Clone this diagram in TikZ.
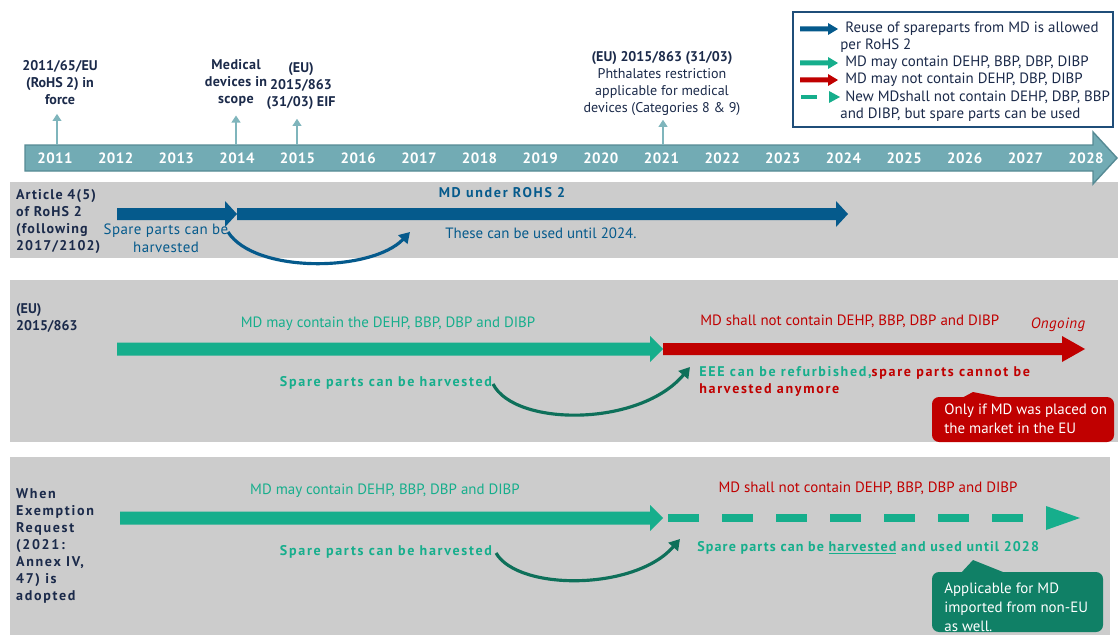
\documentclass[tikz,border=0pt]{standalone}
\usepackage{fontspec}
\setmainfont{PT Sans}
\newfontfamily\trackedFont[LetterSpace=12]{PT Sans}
\newfontfamily\midTrackedFont[LetterSpace=8]{PT Sans}
\newfontfamily\lightTrackedFont[LetterSpace=3]{PT Sans}
\usepackage{tikz}
\usetikzlibrary{arrows.meta}
\definecolor{timelineColor}{RGB}{114,171,180}
\definecolor{timelineEdge}{RGB}{86,138,148}
\definecolor{labelColor}{RGB}{27,42,74}
\definecolor{rohsBlue}{RGB}{5,90,140}
\definecolor{mdGreen}{RGB}{22,174,140}
\definecolor{mdRed}{RGB}{192,0,0}
\definecolor{curveGreen}{RGB}{14,112,90}
\definecolor{calloutGreen}{RGB}{16,128,102}
\definecolor{panelGrey}{RGB}{204,204,204}
\definecolor{legendEdge}{RGB}{31,78,121}
\definecolor{markerColor}{RGB}{127,181,188}
\newcommand{\textSize}{\fontsize{8}{9.8}\selectfont}
\newcommand{\plainSize}{\fontsize{8.5}{9.8}\selectfont}
\tikzstyle{pixelGrid} = [x = 0.02cm, y = -0.02cm]
\tikzstyle{panelStyle} = [fill=panelGrey]
\tikzstyle{timelineStyle} = [fill=timelineColor, draw=timelineEdge, line width=0.8pt]
\tikzstyle{yearText} = [font=\fontsize{8.5}{10}\selectfont\lightTrackedFont\bfseries, text=white, inner sep=0pt]
\tikzstyle{eventText} = [anchor=north, align=center, font=\textSize\bfseries, text=labelColor, inner sep=1pt]
\tikzstyle{rowTitle} = [anchor=north west, align=left, font=\textSize\midTrackedFont\bfseries, text=labelColor, inner sep=1pt]
\tikzstyle{plainText} = [anchor=base, font=\plainSize, inner sep=0pt]
\tikzstyle{boldText} = [anchor=base, font=\textSize\trackedFont\bfseries, inner sep=0pt]
\tikzstyle{legendText} = [anchor=base west, font=\plainSize, text=labelColor, inner sep=0pt]
\tikzstyle{calloutText} = [anchor=north west, align=left, font=\fontsize{8.5}{10.8}\selectfont, text=white, inner sep=0pt]
\tikzstyle{markerArrow} = [draw=markerColor, line width=0.8pt, shorten >=4pt, -{Triangle[length=4pt,width=5pt]}]
\tikzstyle{harvestCurve} = [line width=1.8pt, -{Triangle[length=6pt,width=7pt]}]
% color, x start, x tip, y, half thickness, half head, head length
\newcommand{\blockArrow}[7]{\fill [#1] (#2, #4 - #5) -- (#3 - #7, #4 - #5) -- (#3 - #7, #4 - #6) -- (#3, #4) -- (#3 - #7, #4 + #6) -- (#3 - #7, #4 + #5) -- (#2, #4 + #5) -- cycle;}

\begin{document}
\begin{tikzpicture}[pixelGrid]
  \useasboundingbox (0,0) rectangle (1118,635);
  % rows
  \fill [panelStyle] (10,182) rectangle (1118,258);
  \fill [panelStyle] (10,280) rectangle (1118,442);
  \fill [panelStyle] (10,457) rectangle (1110,635);

  % time line
  \filldraw [timelineStyle] (25,145) -- (1093,145) -- (1093,132) -- (1117,158) -- (1093,184) -- (1093,171) -- (25,171) -- cycle;
  \foreach \yr [count=\i from 0] in {2011,...,2028}
    \node [yearText] (year\yr) at (55 + 60.65 * \i, 158) {\yr};

  % events above the time line
  \node [eventText] (lblRohs) at (60,58) {2011/65/EU\\(RoHS 2) in\\force};
  \node [eventText, font=\textSize\lightTrackedFont\bfseries] (lblMed) at (236,57) {Medical\\devices in\\scope};
  \node [eventText] (lblEif) at (301,60) {(EU)\\2015/863\\(31/03) EIF};
  \node [eventText, font=\textSize] (lblPhth) at (662,49) {\textbf{(EU) 2015/863 (31/03)}\\Phthalates restriction\\applicable for medical\\devices (Categories 8 \& 9)};
  \coordinate (tickRohs) at (57,145);
  \coordinate (tickMed) at (236,145);
  \coordinate (tickEif) at (297,145);
  \coordinate (tickPhth) at (663,145);
  \draw [markerArrow] (tickRohs) -- (tickRohs |- lblRohs.south);
  \draw [markerArrow] (tickMed) -- (tickMed |- lblMed.south);
  \draw [markerArrow] (tickEif) -- (tickEif |- lblEif.south);
  \draw [markerArrow, shorten >=1pt] (tickPhth) -- (tickPhth |- lblPhth.south);

  % legend
  \filldraw [draw=legendEdge, fill=white, line width=1.2pt] (793,12) rectangle (1113,127);
  \blockArrow{rohsBlue}{800}{838}{29}{2.5}{6}{10}
  \blockArrow{mdGreen}{800}{838}{63}{2.5}{6}{10}
  \blockArrow{mdRed}{800}{838}{80}{2.5}{6}{10}
  \fill [mdGreen] (801,95) rectangle (817,99);
  \fill [mdGreen] (829,91) -- (840,97) -- (829,103) -- cycle;
  \node [legendText] (legReuse) at (845,33) {Reuse of spareparts from MD is allowed};
  \node [legendText] (legReuseB) at (840,50) {per RoHS 2};
  \node [legendText] (legMay) at (845,67) {MD may contain DEHP, BBP, DBP, DIBP};
  \node [legendText] (legMayNot) at (845,84) {MD may not contain DEHP, DBP, DIBP};
  \node [legendText] (legNew) at (845,101) {New MDshall not contain DEHP, DBP, BBP};
  \node [legendText] (legNewB) at (840,118) {and DIBP, but spare parts can be used};

  % row 1: Article 4(5)
  \node [rowTitle] (rowArticle) at (14,187) {Article 4(5)\\of RoHS 2\\(following\\2017/2102)};
  \blockArrow{rohsBlue}{117}{237}{214}{6}{13}{12}
  \blockArrow{rohsBlue}{237}{848}{214}{6}{13}{12}
  \node [boldText, text=rohsBlue] (underRohs) at (502,197) {MD under ROHS 2};
  \node [plainText, font=\plainSize\lightTrackedFont, text=rohsBlue, align=center, anchor=north] (harvestA) at (166,224) {Spare parts can be\\harvested};
  \node [plainText, text=rohsBlue, anchor=base west] (usedA) at (445,238) {These can be used until 2024.};
  \coordinate (curveStartA) at (228,232);
  \coordinate (curveEndA) at (410,232);
  \draw [harvestCurve, rohsBlue] (curveStartA) .. controls (255,274) and (372,272) .. (curveEndA);

  % row 2: (EU) 2015/863
  \node [rowTitle, font=\textSize\bfseries] (rowDirective) at (14,301) {(EU)\\2015/863};
  \blockArrow{mdGreen}{117}{663}{349}{6.5}{13}{13}
  \blockArrow{mdRed}{663}{1085}{349}{6}{13}{23}
  \node [plainText, text=mdGreen] (mayB) at (388,327) {MD may contain the DEHP, BBP, DBP and DIBP};
  \node [plainText, text=mdRed, anchor=base west] (notB) at (700,325) {MD shall not contain DEHP, BBP, DBP and DIBP};
  \node [plainText, text=mdRed, font=\plainSize\lightTrackedFont\itshape] (ongoing) at (1058,328) {Ongoing};
  \node [boldText, text=mdGreen] (harvestB) at (386,386) {Spare parts can be harvested};
  \node [boldText, anchor=north west, align=left] (refurbB) at (699,366) {\textcolor{mdGreen}{EEE can be refurbished,}\textcolor{mdRed}{spare parts cannot be}\\\textcolor{mdRed}{harvested anymore}};
  \coordinate (curveStartB) at (493,384);
  \coordinate (curveEndB) at (690,367);
  \draw [harvestCurve, curveGreen] (curveStartB) .. controls (515,427) and (640,427) .. (curveEndB);
  \fill [mdRed, rounded corners=4pt] (932,397) rectangle (1114,442);
  \fill [mdRed] (960,399) -- (973,392) -- (1008,399) -- cycle;
  \node [calloutText] (onlyIf) at (944,404) {Only if MD was placed on\\the market in the EU};

  % row 3: exemption request
  \node [rowTitle, font=\fontsize{8}{9.6}\selectfont\trackedFont\bfseries] (rowExempt) at (14,487) {When\\Exemption\\Request\\(2021:\\Annex IV,\\47) is\\adopted};
  \blockArrow{mdGreen}{120}{663}{518}{6.5}{13}{13}
  \foreach \dashStart in {668,722,...,992}
    \fill [mdGreen] (\dashStart,514) rectangle +(31,8);
  \fill [mdGreen] (1046,506) -- (1080,518) -- (1046,530) -- cycle;
  \node [plainText, text=mdGreen] (mayC) at (385,494) {MD may contain DEHP, BBP, DBP and DIBP};
  \node [plainText, text=mdRed] (notC) at (868,492) {MD shall not contain DEHP, BBP, DBP and DIBP};
  \node [boldText, text=mdGreen] (harvestC) at (386,555) {Spare parts can be harvested};
  \node [boldText, font=\textSize\midTrackedFont\bfseries, text=mdGreen, anchor=base west] (usedC) at (697,551) {Spare parts can be \underline{harvested} and used until 2028};
  \coordinate (curveStartC) at (496,553);
  \coordinate (curveEndC) at (680,539);
  \draw [harvestCurve, curveGreen] (curveStartC) .. controls (518,591) and (635,591) .. (curveEndC);
  \fill [calloutGreen, rounded corners=4pt] (932,572) rectangle (1103,632);
  \fill [calloutGreen] (960,574) -- (973,560) -- (1008,574) -- cycle;
  \node [calloutText] (importC) at (944,583) {Applicable for MD\\imported from non-EU\\as well.};
\end{tikzpicture}
\end{document}
